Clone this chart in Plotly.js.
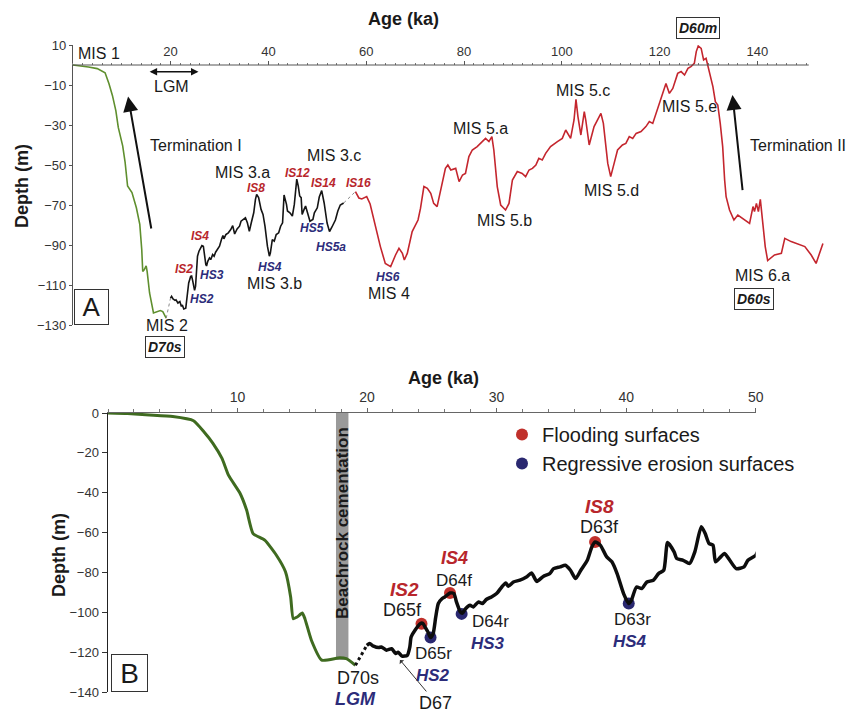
<!DOCTYPE html>
<html>
<head>
<meta charset="utf-8">
<script src="https://cdn.plot.ly/plotly-3.0.1.min.js"></script>
<style>html,body{margin:0;padding:0;background:#fff}#chart{width:851px;height:715px}</style>
</head>
<body>
<div id="chart"></div>
<script>
// ---------- data (age in ka, depth in m) ----------
const greenAge   = [0, 1.5, 3.2, 5.0, 6.6, 7.4, 8.1, 8.8, 9.3, 10.2, 10.7, 11.2, 12.1, 13.0, 13.7, 14.1, 14.3, 14.6, 15.0, 15.2, 15.7, 16.5, 17.9, 18.4, 19.1];
const greenDepth = [0, -0.3, -1, -1.8, -3.9, -9.4, -15.2, -22.8, -31.2, -40.4, -48.7, -60.5, -63.8, -71.4, -79.7, -92.3, -103.2, -102.4, -100.4, -103.2, -114, -124, -122.8, -123.3, -126.6];

const blackAge   = [19.98, 20.2, 20.5, 20.9, 21.1, 21.5, 21.9, 22.2, 22.4, 22.7, 23.1, 23.3, 23.4, 23.7, 24.1, 24.3, 24.5, 24.7, 24.9, 25.1, 25.3, 25.5, 25.8, 26.0, 26.4, 26.7, 26.9, 27.2, 27.35, 27.6, 27.95, 28.2, 28.6, 28.9, 29.2, 29.6, 30.0, 30.4, 30.7, 30.9, 31.3, 31.8, 32.3, 32.7, 33.1, 33.6, 34.1, 34.4, 34.9, 35.3, 35.7, 36.1, 36.5, 37.0, 37.35, 37.6, 38.0, 38.5, 38.9, 39.3, 39.8, 40.2, 40.4, 40.8, 41.2, 41.6, 42.1, 42.5, 42.9, 43.2, 43.7, 43.9, 44.4, 44.9, 45.3, 45.8, 46.1, 46.4, 46.7, 46.9, 47.3, 47.6, 48.0, 48.5, 49.1, 49.4, 50.0, 50.4, 50.9, 51.4, 52.0, 52.5, 53.0, 53.7, 54.2, 54.7, 55.4];
const blackDepth = [-116.6, -115.7, -117, -117.7, -117.4, -119, -118.3, -120.7, -120, -122, -121.6, -117.4, -112.4, -109, -105.7, -105.5, -107.7, -109.9, -112.7, -110.7, -102.4, -95.6, -93.1, -92.3, -90.3, -90.6, -94.8, -99.8, -100.5, -98.2, -96.5, -97.3, -94.8, -95.6, -93.6, -92.3, -90.6, -87.3, -85.3, -86.9, -84.8, -83.9, -82.3, -80.3, -84.5, -82, -80.6, -78.1, -77.2, -76.4, -78.9, -83.1, -78.9, -73.9, -67.2, -64.7, -66.3, -72.2, -74.7, -80.6, -90.6, -95.6, -94, -87.3, -88.1, -84.8, -83.9, -80.6, -78.9, -65, -69.7, -73, -73.9, -75.5, -69.7, -57.1, -60.5, -65.5, -66.3, -74.7, -72.2, -70.5, -73.9, -78.1, -77.2, -73.9, -71.4, -66, -62.8, -69, -79, -83.3, -81, -77.5, -73, -70, -69];

const redAge   = [57.8, 58.5, 59.1, 60.1, 60.8, 61.9, 62.9, 63.9, 65.0, 66.0, 66.7, 67.4, 67.8, 68.4, 69.4, 70.6, 71.1, 71.8, 72.5, 73.2, 73.8, 74.5, 75.2, 76.2, 76.7, 77.3, 78.3, 79.0, 79.7, 80.3, 81.0, 81.7, 82.7, 83.7, 84.4, 85.1, 85.7, 86.1, 86.8, 87.5, 88.5, 89.2, 89.9, 90.9, 91.9, 92.6, 93.3, 94.0, 94.7, 95.3, 96.0, 96.7, 97.7, 99.1, 100.1, 100.8, 101.8, 102.5, 102.9, 103.3, 103.9, 104.6, 104.9, 105.6, 106.6, 108.0, 108.5, 109.4, 110.0, 110.7, 111.4, 112.4, 113.1, 113.8, 114.5, 115.2, 116.2, 117.2, 117.9, 118.6, 119.6, 120.6, 121.3, 122.0, 122.7, 123.7, 124.4, 125.1, 125.8, 126.4, 127.1, 127.5, 127.9, 128.5, 129.0, 129.5, 130.2, 130.9, 131.4, 131.9, 132.4, 132.9, 133.3, 133.6, 134.3, 135.2, 136.0, 137.0, 138.4, 139.1, 139.4, 139.8, 140.2, 140.6, 141.1, 141.6, 142.1, 143.5, 144.9, 145.6, 146.9, 148.3, 149.7, 151.0, 152.0, 153.4];
const redDepth = [-63.3, -66.5, -67, -65.8, -69.5, -80.8, -90.8, -99.2, -100.8, -95, -91.7, -94.2, -97.5, -94.2, -83.3, -77.5, -71.7, -60.8, -61.7, -64.2, -69.2, -70.8, -62.5, -51.7, -50, -52.5, -51.7, -58.3, -55, -54.2, -45.8, -42.5, -40.8, -38.3, -36.7, -38.3, -35.8, -42.5, -60.8, -70, -72.5, -69.2, -57.5, -53.3, -54.2, -55.8, -52.5, -51.7, -50, -46.7, -47.5, -44.2, -40.8, -38.3, -36.7, -32.5, -36.7, -27.5, -17.2, -25.8, -35, -23.3, -27.5, -40, -30.8, -24.2, -29.2, -49.2, -55.8, -49.2, -42.5, -40, -39.2, -35.8, -36.7, -34.2, -33.3, -30.8, -28.3, -29.2, -21.7, -15, -9.2, -14.2, -11.7, -4.2, -3.3, -5, -1.7, -0.8, 0.8, 6.7, 9.5, 8.3, 2.5, 3.3, -3.3, -10.8, -18.3, -20, -29.2, -40.8, -57.5, -65.8, -72.5, -77.5, -75, -76.7, -79.2, -70.8, -73.3, -69.2, -73.3, -67.2, -80.8, -90.8, -97.8, -95, -94.2, -86.7, -88.3, -89.5, -90.8, -95, -99.2, -89.2];

const floodAge   = [24.2, 26.4, 37.6];
const floodDepth = [-105.8, -90.3, -64.7];
const regrAge    = [24.9, 27.3, 40.2];
const regrDepth  = [-112.7, -100.8, -95.6];

const topTicks    = [20, 40, 60, 80, 100, 120, 140];
const topDepthTicks = [10, -10, -30, -50, -70, -90, -110, -130];
const botTicks    = [10, 20, 30, 40, 50];
const botDepthTicks = [0, -20, -40, -60, -80, -100, -120, -140];

// ---------- styling ----------
const F = 'Liberation Sans, Arial, sans-serif';
const W = 851, H = 715;
const RED = '#b8262c', BLUE = '#2c2c7a';
const last = a => a[a.length - 1];
const range = (a, b, s) => { const r = []; for (let v = a; v <= b + 1e-9; v += s) r.push(v); return r; };

const traces = [
  // bottom legend markers (drawn under the line)
  {x: floodAge, y: floodDepth, xaxis: 'x2', yaxis: 'y2', mode: 'markers', name: 'Flooding surfaces',
   marker: {color: '#c0302b', size: 12}, showlegend: true},
  {x: regrAge, y: regrDepth, xaxis: 'x2', yaxis: 'y2', mode: 'markers', name: 'Regressive erosion surfaces',
   marker: {color: '#2a2870', size: 12}, showlegend: true},
  // top panel
  {x: greenAge, y: greenDepth, xaxis: 'x', yaxis: 'y', mode: 'lines', line: {color: '#5f8f2e', width: 1.6}, showlegend: false},
  {x: [last(greenAge), blackAge[0]], y: [last(greenDepth), blackDepth[0]], xaxis: 'x', yaxis: 'y', mode: 'lines',
   line: {color: '#888', width: 1, dash: 'dot'}, showlegend: false},
  {x: blackAge, y: blackDepth, xaxis: 'x', yaxis: 'y', mode: 'lines', line: {color: '#151515', width: 1.6}, showlegend: false},
  {x: [last(blackAge), redAge[0]], y: [last(blackDepth), redDepth[0]], xaxis: 'x', yaxis: 'y', mode: 'lines',
   line: {color: '#888', width: 1, dash: 'dot'}, showlegend: false},
  {x: redAge, y: redDepth, xaxis: 'x', yaxis: 'y', mode: 'lines', line: {color: '#c4262e', width: 1.6}, showlegend: false},
  // bottom panel
  {x: greenAge, y: greenDepth, xaxis: 'x2', yaxis: 'y2', mode: 'lines', line: {color: '#3f6b20', width: 3, shape: 'spline', smoothing: 0.5}, showlegend: false},
  {x: [last(greenAge), blackAge[0]], y: [last(greenDepth), blackDepth[0]], xaxis: 'x2', yaxis: 'y2', mode: 'lines',
   line: {color: '#111', width: 3, dash: 'dot'}, showlegend: false},
  {x: blackAge, y: blackDepth, xaxis: 'x2', yaxis: 'y2', mode: 'lines', line: {color: '#0d0d0d', width: 3.5, shape: 'spline', smoothing: 0.6}, showlegend: false}
];

function T(text, px, py, size, extra) {
  return Object.assign({text: text, xref: 'paper', yref: 'paper', x: px / W, y: 1 - py / H,
    xanchor: 'center', yanchor: 'middle', showarrow: false,
    font: {family: F, size: size, color: '#1a1a1a'}}, extra || {});
}
const red = (t) => '<b><i>' + t + '</i></b>';
const boxed = {bordercolor: '#333', borderwidth: 1, borderpad: 2, bgcolor: '#fff'};

const annotations = [
  // titles
  T('<b>Age (ka)</b>', 403, 19, 18),
  T('<b>Depth (m)</b>', 22, 186, 18, {textangle: -90}),
  T('<b>Age (ka)</b>', 443, 378, 18),
  T('<b>Depth (m)</b>', 59, 555, 18, {textangle: -90}),
  // top panel labels
  T('MIS 1', 76, 53, 16, {xanchor: 'left'}),
  T('LGM', 171, 86, 16),
  T('Termination I', 148, 145, 16, {xanchor: 'left'}),
  T('MIS 3.a', 242, 173, 16),
  T('MIS 3.c', 334, 156, 16),
  T('MIS 3.b', 274, 283, 16),
  T('MIS 2', 167, 325, 16),
  T('MIS 4', 389, 294, 16),
  T('MIS 5.a', 480, 129, 16),
  T('MIS 5.b', 504, 220, 16),
  T('MIS 5.c', 583, 91, 16),
  T('MIS 5.d', 611, 190, 16),
  T('MIS 5.e', 689, 106, 16),
  T('Termination II', 748, 145, 16, {xanchor: 'left'}),
  T('MIS 6.a', 762, 276, 16),
  T(red('IS8'), 256, 188, 12, {font: {family: F, size: 12, color: RED}}),
  T(red('IS12'), 297, 173, 12, {font: {family: F, size: 12, color: RED}}),
  T(red('IS14'), 323, 183, 12, {font: {family: F, size: 12, color: RED}}),
  T(red('IS16'), 358, 183, 12, {font: {family: F, size: 12, color: RED}}),
  T(red('IS4'), 200, 236, 12, {font: {family: F, size: 12, color: RED}}),
  T(red('IS2'), 184, 269, 12, {font: {family: F, size: 12, color: RED}}),
  T(red('HS3'), 212, 275, 12, {font: {family: F, size: 12, color: BLUE}}),
  T(red('HS2'), 202, 299, 12, {font: {family: F, size: 12, color: BLUE}}),
  T(red('HS4'), 270, 267, 12, {font: {family: F, size: 12, color: BLUE}}),
  T(red('HS5'), 312, 228, 12, {font: {family: F, size: 12, color: BLUE}}),
  T(red('HS5a'), 331, 247, 12, {font: {family: F, size: 12, color: BLUE}}),
  T(red('HS6'), 388, 277, 12, {font: {family: F, size: 12, color: BLUE}}),
  T(red('D70s'), 165, 347, 14, boxed),
  T(red('D60m'), 698, 28, 14, boxed),
  T(red('D60s'), 754, 299, 14, boxed),
  T('A', 91.5, 307.5, 26, Object.assign({}, boxed, {width: 31, height: 32, borderpad: 1})),
  // arrows top
  {xref: 'x', yref: 'y', axref: 'x', ayref: 'y', x: 25.7, y: -3.4, ax: 15.4, ay: -3.4, text: '', showarrow: true,
   arrowside: 'end+start', arrowhead: 2, arrowsize: 1, arrowwidth: 1.5, arrowcolor: '#111'},
  {xref: 'x', yref: 'y', axref: 'x', ayref: 'y', x: 11.3, y: -15.8, ax: 16.1, ay: -82.5, text: '', showarrow: true,
   arrowhead: 2, arrowsize: 1.5, arrowwidth: 2, arrowcolor: '#111'},
  {xref: 'x', yref: 'y', axref: 'x', ayref: 'y', x: 134.9, y: -15, ax: 137.0, ay: -63.3, text: '', showarrow: true,
   arrowhead: 2, arrowsize: 1.5, arrowwidth: 2, arrowcolor: '#111'},
  // bottom panel labels
  T('<b>Beachrock cementation</b>', 342, 523, 17, {textangle: -90}),
  T(red('IS2'), 404, 589, 19, {font: {family: F, size: 19, color: RED}}),
  T('D65f', 402, 610, 18),
  T(red('IS4'), 454, 558, 18, {font: {family: F, size: 18, color: RED}}),
  T('D64f', 454, 580, 17),
  T('D65r', 433, 653, 17),
  T(red('HS2'), 433, 675, 17, {font: {family: F, size: 17, color: BLUE}}),
  T('D64r', 490, 621, 17),
  T(red('HS3'), 488, 643, 17, {font: {family: F, size: 17, color: BLUE}}),
  T(red('IS8'), 599, 506, 19, {font: {family: F, size: 19, color: RED}}),
  T('D63f', 599, 527, 18),
  T('D63r', 632, 619, 17),
  T(red('HS4'), 630, 641, 17, {font: {family: F, size: 17, color: BLUE}}),
  T('D70s', 358, 678, 18),
  T(red('LGM'), 355, 699, 18, {font: {family: F, size: 18, color: BLUE}}),
  {xref: 'x2', yref: 'y2', x: 22.54, y: -123.9, ax: 36, ay: 43, text: 'D67', showarrow: true,
   arrowhead: 1, arrowsize: 1, arrowwidth: 1, arrowcolor: '#333', font: {family: F, size: 18, color: '#1a1a1a'}},
  T('B', 129, 673, 28, Object.assign({}, boxed, {width: 33, height: 34, borderpad: 1}))
];

const shapes = [
  {type: 'line', xref: 'x', yref: 'y', x0: 0, x1: 150.5, y0: 0, y1: 0, line: {color: '#555', width: 1}},
  {type: 'rect', xref: 'x2', yref: 'y2', x0: 17.6, x1: 18.56, y0: 0, y1: -124, fillcolor: '#9a9a9a', line: {width: 0}, layer: 'below'}
];

const tickFont = {family: F, size: 13, color: '#333'};
const layout = {
  width: W, height: H, margin: {l: 0, r: 0, t: 0, b: 0},
  paper_bgcolor: '#fff', plot_bgcolor: 'rgba(0,0,0,0)',
  showlegend: true,
  legend: {x: 502 / W, y: 1 - 415 / H, xanchor: 'left', yanchor: 'top', bgcolor: 'rgba(0,0,0,0)',
           font: {family: F, size: 20, color: '#1a1a1a'}, itemwidth: 30},
  xaxis: {domain: [72.8 / W, (72.8 + 154 * 4.89) / W], range: [0, 154], anchor: 'free', position: 1 - 65 / H,
          side: 'top', showline: false, showgrid: false, zeroline: false,
          tickmode: 'array', tickvals: topTicks, ticks: 'outside', ticklen: 4, tickcolor: '#555',
          minor: {tickvals: range(0, 150, 2), ticks: 'outside', ticklen: 2, tickcolor: '#777'},
          tickfont: tickFont},
  yaxis: {domain: [1 - 325 / H, 1 - 45 / H], range: [-130, 10], anchor: 'x', showline: true, linecolor: '#555', linewidth: 1,
          showgrid: false, zeroline: false, tickmode: 'array', tickvals: topDepthTicks, ticks: 'outside', ticklen: 3,
          tickcolor: '#555', tickfont: tickFont},
  xaxis2: {domain: [108 / W, 755.7 / W], range: [0, 50], anchor: 'y2', side: 'top', showline: true, linecolor: '#666',
           linewidth: 1, showgrid: false, zeroline: false, tickmode: 'array', tickvals: botTicks, ticks: 'outside',
           ticklen: 4, tickcolor: '#666', minor: {tickvals: range(0, 50, 2), ticks: 'outside', ticklen: 3, tickcolor: '#777'},
           tickfont: {family: F, size: 14, color: '#333'}},
  yaxis2: {domain: [1 - 692 / H, 1 - 413 / H], range: [-140, 0], anchor: 'x2', showline: true, linecolor: '#222',
           linewidth: 1.5, showgrid: false, zeroline: false, tickmode: 'array', tickvals: botDepthTicks, ticks: 'outside',
           ticklen: 5, tickcolor: '#333', tickfont: tickFont},
  annotations: annotations,
  shapes: shapes
};

Plotly.newPlot('chart', traces, layout, {displayModeBar: false, staticPlot: true});
</script>
</body>
</html>
